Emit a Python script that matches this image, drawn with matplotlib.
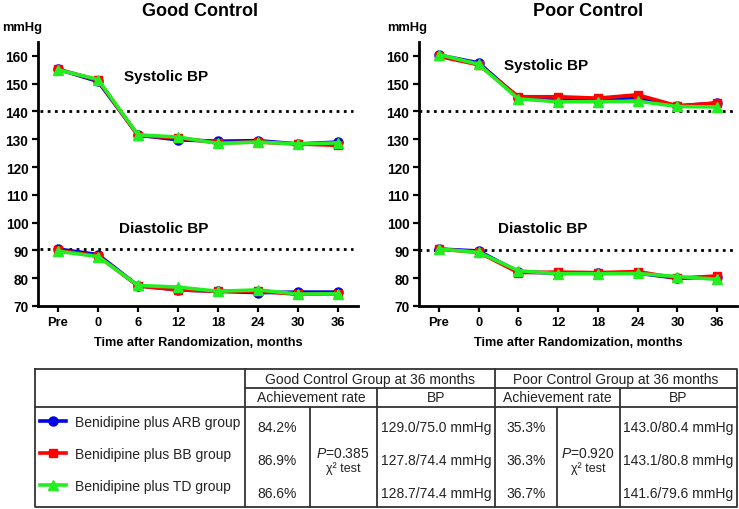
import matplotlib
matplotlib.use('Agg')
import matplotlib.pyplot as plt
import numpy as np

plt.rcParams['font.family'] = ['Liberation Sans', 'DejaVu Sans']
plt.rcParams['mathtext.fontset'] = 'custom'
plt.rcParams['mathtext.rm'] = 'Liberation Sans'
plt.rcParams['mathtext.it'] = 'Liberation Sans:italic'

# data
months = ['Pre', '0', '6', '12', '18', '24', '30', '36']
groups = ['Benidipine plus ARB group', 'Benidipine plus BB group', 'Benidipine plus TD group']

good_sbp_arb = [155.2, 150.8, 131.5, 129.8, 129.3, 129.5, 128.3, 129.0]
good_sbp_bb = [155.2, 151.3, 131.3, 130.5, 128.7, 129.0, 128.3, 127.8]
good_sbp_td = [155.0, 151.5, 131.6, 130.8, 128.5, 129.0, 128.3, 128.7]
good_dbp_arb = [90.5, 88.5, 77.3, 75.8, 75.3, 74.8, 75.0, 75.0]
good_dbp_bb = [90.0, 88.0, 77.2, 75.8, 75.3, 75.3, 74.2, 74.4]
good_dbp_td = [89.7, 87.8, 77.4, 76.8, 75.3, 75.8, 74.3, 74.4]

poor_sbp_arb = [160.3, 157.5, 145.0, 144.3, 144.3, 145.0, 142.0, 143.0]
poor_sbp_bb = [159.8, 156.8, 145.3, 145.3, 144.8, 146.0, 142.0, 143.1]
poor_sbp_td = [160.5, 157.0, 144.5, 143.5, 143.5, 143.7, 141.8, 141.6]
poor_dbp_arb = [90.5, 89.8, 82.3, 81.8, 81.8, 81.8, 80.0, 80.4]
poor_dbp_bb = [90.5, 89.3, 82.0, 82.2, 82.0, 82.4, 80.0, 80.8]
poor_dbp_td = [90.5, 89.3, 82.7, 81.6, 81.6, 81.7, 80.6, 79.6]

good_rates = ['84.2%', '86.9%', '86.6%']
good_bp = ['129.0/75.0 mmHg', '127.8/74.4 mmHg', '128.7/74.4 mmHg']
good_p = '0.385'
poor_rates = ['35.3%', '36.3%', '36.7%']
poor_bp = ['143.0/80.4 mmHg', '143.1/80.8 mmHg', '141.6/79.6 mmHg']
poor_p = '0.920'

colors = ['#0000e6', '#ff0000', '#22ee22']
markers = ['o', 's', '^']
msizes = [6.5, 6, 7]

W, H = 739, 510
fig = plt.figure(figsize=(W / 100, H / 100), dpi=100)

# overlay axes in pixel coords for the table
ax0 = fig.add_axes([0, 0, 1, 1])
ax0.set_xlim(0, W)
ax0.set_ylim(H, 0)
ax0.axis('off')


def px_axes(x0, x1, y0, y1):
    return fig.add_axes([x0 / W, 1 - y1 / H, (x1 - x0) / W, (y1 - y0) / H])


x = np.arange(len(months))
panels = [
    ('Good Control', px_axes(38, 358, 43, 307),
     [good_sbp_arb, good_sbp_bb, good_sbp_td], [good_dbp_arb, good_dbp_bb, good_dbp_td],
     (-0.45, 7.37), 90.5, (2.7, 152.8), (2.65, 98)),
    ('Poor Control', px_axes(419, 737, 43, 307),
     [poor_sbp_arb, poor_sbp_bb, poor_sbp_td], [poor_dbp_arb, poor_dbp_bb, poor_dbp_td],
     (-0.5, 7.5), 90.3, (2.7, 156.8), (2.6, 98)),
]

handles = []
for title, ax, sbp, dbp, dl, dia_ref, spos, dpos in panels:
    ax.patch.set_alpha(0)
    for i in range(3):
        for series in (sbp[i], dbp[i]):
            ln, = ax.plot(x, series, color=colors[i], lw=2.6, marker=markers[i],
                          ms=msizes[i], mec=colors[i], zorder=3 + i)
        if title == 'Good Control':
            handles.append(ln)
    ax.hlines(140, dl[0], dl[1], colors='black', linestyles=(0, (1, 1.6)), lw=2)
    ax.hlines(dia_ref, dl[0], dl[1], colors='black', linestyles=(0, (1, 1.6)), lw=2)
    ax.set_xlim(-0.5, 7.5)
    ax.set_ylim(70, 165)
    ax.set_yticks(range(70, 161, 10))
    ax.set_xticks(x)
    ax.set_xticklabels(months)
    for s in ['top', 'right']:
        ax.spines[s].set_visible(False)
    for s in ['left', 'bottom']:
        ax.spines[s].set_linewidth(2)
    ax.tick_params(axis='both', direction='out', length=4, width=1.6, pad=3)
    for lab in ax.get_xticklabels():
        lab.set_fontweight('bold')
        lab.set_fontsize(9.3)
    for lab in ax.get_yticklabels():
        lab.set_fontweight('bold')
        lab.set_fontsize(9.8)
    ax.set_xlabel('Time after Randomization, months', fontsize=9.2, fontweight='bold', labelpad=6)
    ax.text(spos[0], spos[1], 'Systolic BP', ha='center', va='center', fontsize=11, fontweight='bold')
    ax.text(dpos[0], dpos[1], 'Diastolic BP', ha='center', va='center', fontsize=11, fontweight='bold')

ax0.text(200, 11, 'Good Control', ha='center', va='center', fontsize=13, fontweight='bold')
ax0.text(588, 11, 'Poor Control', ha='center', va='center', fontsize=13, fontweight='bold')
ax0.text(2, 28, 'mmHg', ha='left', va='center', fontsize=9.3, fontweight='bold')
ax0.text(387, 28, 'mmHg', ha='left', va='center', fontsize=9.3, fontweight='bold')

# table
lc = '#333333'
lw = 1.3
ax0.plot([35, 737, 737, 35, 35], [370, 370, 508, 508, 370], color=lc, lw=lw)
ax0.plot([245, 245], [370, 508], color=lc, lw=lw)
ax0.plot([495, 495], [370, 508], color=lc, lw=lw)
ax0.plot([245, 737], [389, 389], color=lc, lw=lw)
ax0.plot([35, 737], [408, 408], color=lc, lw=lw)
for xv in (377, 620):
    ax0.plot([xv, xv], [389, 508], color=lc, lw=lw)
for xv in (310, 557):
    ax0.plot([xv, xv], [408, 508], color=lc, lw=lw)

fs = 10
tc = '#222222'
ax0.text(370, 380, 'Good Control Group at 36 months', ha='center', va='center', fontsize=fs, color=tc)
ax0.text(616, 380, 'Poor Control Group at 36 months', ha='center', va='center', fontsize=fs, color=tc)
for cx_rate, cx_bp in ((311, 436), (557, 678)):
    ax0.text(cx_rate, 398.5, 'Achievement rate', ha='center', va='center', fontsize=fs, color=tc)
    ax0.text(cx_bp, 398.5, 'BP', ha='center', va='center', fontsize=fs, color=tc)

row_y = [428, 461, 494]
for rates, bps, p, cx_r, cx_p, cx_b in ((good_rates, good_bp, good_p, 277.5, 343, 436),
                                         (poor_rates, poor_bp, poor_p, 526, 588, 678)):
    for yv, r, b in zip(row_y, rates, bps):
        ax0.text(cx_r, yv, r, ha='center', va='center', fontsize=fs, color=tc)
        ax0.text(cx_b, yv, b, ha='center', va='center', fontsize=fs, color=tc)
    ax0.text(cx_p, 454, r'$\mathit{P}$=' + p, ha='center', va='center', fontsize=fs, color=tc)
    ax0.text(cx_p, 469, 'χ² test', ha='center', va='center', fontsize=fs - 1, color=tc)

fig.legend(handles=handles, labels=groups, loc='upper left',
           bbox_to_anchor=(40 / W, 1 - 416 / H), frameon=False, fontsize=fs,
           borderaxespad=0, borderpad=0, handlelength=1.9, handletextpad=0.65,
           labelspacing=1.3, numpoints=1, labelcolor=tc)

fig.savefig('out.png', dpi=100)
